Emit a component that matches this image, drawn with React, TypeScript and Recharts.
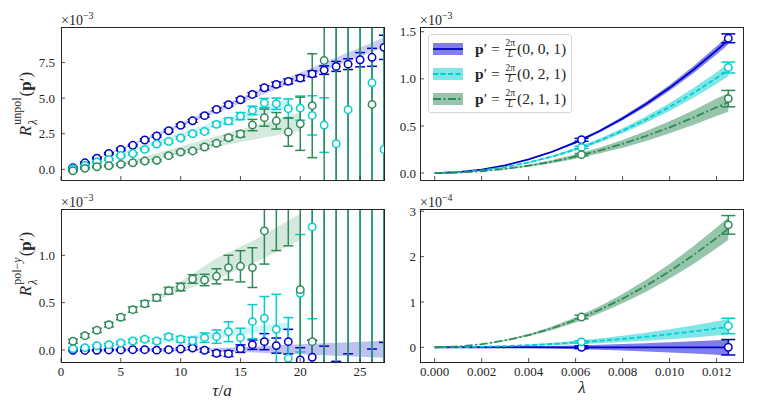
import React from "react"
import { ComposedChart, Scatter, ErrorBar, Area, Line, XAxis, YAxis } from "recharts"

const BLUE = "#0000cd"
const CYAN = "#00ced1"
const GREEN = "#2e8b57"
const INK = "#262626"
const FONT = '"Liberation Serif", "DejaVu Serif", serif'

const W = 764
const H = 414
const Y_W = 40
const X_H = 30

// ---- left column: ratio vs tau/a ----
const tau = [1, 2, 3, 4, 5, 6, 7, 8, 9, 10, 11, 12, 13, 14, 15, 16, 17, 18, 19, 20, 21, 22, 23, 24, 25, 26, 27]
const tauTicks = [0, 5, 10, 15, 20, 25]

// R^unpol, units of 1e-3
const unpolBlue = [0.11, 0.46, 0.79, 1.12, 1.40, 1.69, 2.06, 2.34, 2.71, 3.09, 3.41, 3.77, 4.21, 4.54, 4.89, 5.26, 5.73, 5.97, 6.18, 6.41, 6.71, 6.97, 7.23, 7.39, 7.70, 7.87, 8.57]
const unpolBlueErr = [0.05, 0.05, 0.06, 0.06, 0.07, 0.07, 0.08, 0.08, 0.09, 0.09, 0.1, 0.1, 0.1, 0.12, 0.12, 0.13, 0.15, 0.15, 0.17, 0.18, 0.2, 0.3, 0.35, 0.38, 0.5, 0.63, 0.85]
const unpolCyan = [0.05, 0.27, 0.51, 0.70, 0.97, 1.11, 1.40, 1.78, 1.95, 2.20, 2.50, 2.66, 3.16, 3.39, 3.74, 4.14, 4.66, 4.61, 4.26, 4.30, 3.79, 3.11, 1.80, 4.19, 11.0, 6.08, 1.40]
const unpolCyanErr = [0.05, 0.05, 0.06, 0.06, 0.07, 0.07, 0.08, 0.08, 0.09, 0.1, 0.1, 0.12, 0.15, 0.2, 0.25, 0.3, 0.32, 0.4, 0.68, 0.85, 1.38, 1.92, 10, 12, 12, 14, 15]
const unpolGreen = [-0.10, 0.07, 0.18, 0.25, 0.35, 0.46, 0.58, 0.63, 0.96, 1.21, 1.29, 1.57, 1.83, 2.22, 2.48, 3.11, 3.63, 3.41, 2.62, 3.20, 4.47, 7.65, -4.0, 14.0, -5.0, 4.56, 13.0]
const unpolGreenErr = [0.05, 0.05, 0.06, 0.06, 0.07, 0.07, 0.08, 0.08, 0.09, 0.1, 0.1, 0.12, 0.13, 0.15, 0.2, 0.4, 0.6, 0.58, 1.0, 1.87, 3.65, 16, 20, 22, 25, 28, 30]

const unpolBlueBandTau = [3, 10, 15, 20, 27]
const unpolBlueBandLo = [0.70, 3.01, 4.64, 6.28, 8.57]
const unpolBlueBandHi = [0.78, 3.27, 5.04, 6.80, 9.27]
const unpolCyanBandTau = [4, 10, 15, 19]
const unpolCyanBandLo = [0.79, 2.25, 3.45, 4.30]
const unpolCyanBandHi = [0.89, 2.55, 3.95, 4.98]
const unpolGreenBandTau = [5, 10, 13, 16, 20]
const unpolGreenBandLo = [0.27, 1.10, 1.58, 2.07, 2.70]
const unpolGreenBandHi = [0.43, 1.60, 2.32, 3.03, 4.00]

// R^pol-y, units of 1e-3
const polBlue = [-0.003, -0.005, -0.003, 0.0, 0.0, 0.003, 0.003, -0.002, 0.003, 0.01, 0.02, -0.003, -0.035, -0.039, 0.014, 0.056, 0.088, 0.046, 0.088, -0.106, -0.077, -0.25, -0.45, -0.4, -0.6, -0.35, -0.35]
const polBlueErr = [0.004, 0.005, 0.006, 0.007, 0.008, 0.009, 0.01, 0.011, 0.012, 0.014, 0.016, 0.02, 0.025, 0.03, 0.04, 0.05, 0.085, 0.08, 0.13, 0.13, 0.18, 0.29, 0.33, 0.36, 0.3, 0.36, 0.43]
const polCyan = [0.014, 0.024, 0.045, 0.056, 0.074, 0.095, 0.113, 0.095, 0.14, 0.113, 0.098, 0.13, 0.141, 0.193, 0.13, 0.299, 0.335, 0.218, -0.088, 0.599, 1.30, 2.0, -2.0, 2.2, -2.2, 2.1, -2.1]
const polCyanErr = [0.01, 0.01, 0.012, 0.014, 0.016, 0.018, 0.02, 0.022, 0.025, 0.03, 0.035, 0.05, 0.07, 0.105, 0.1, 0.18, 0.23, 0.37, 0.43, 0.62, 0.97, 4, 4, 4.5, 4.5, 5, 5]
const polGreen = [0.092, 0.151, 0.208, 0.267, 0.345, 0.426, 0.489, 0.552, 0.626, 0.665, 0.750, 0.739, 0.778, 0.87, 0.884, 0.87, 1.257, 1.6, 1.7, 0.637, 0.088, 2.5, -1.5, 3.0, -2.0, 2.8, -1.8]
const polGreenErr = [0.02, 0.02, 0.022, 0.024, 0.026, 0.028, 0.03, 0.032, 0.035, 0.04, 0.045, 0.06, 0.08, 0.13, 0.165, 0.21, 0.35, 0.55, 0.6, 2.5, 3.0, 4.5, 4.5, 5, 5, 5.5, 5.5]

const polBlueBandTau = [2, 12, 15, 20, 27]
const polBlueBandLo = [-0.004, -0.008, -0.02, -0.045, -0.082]
const polBlueBandHi = [0.004, 0.016, 0.03, 0.06, 0.098]
const polCyanBandTau = [8, 13, 19]
const polCyanBandLo = [0.073, 0.125, 0.225]
const polCyanBandHi = [0.097, 0.195, 0.295]
const polGreenBandTau = [8, 10, 13, 16, 20]
const polGreenBandLo = [0.53, 0.62, 0.75, 0.91, 1.16]
const polGreenBandHi = [0.55, 0.72, 0.97, 1.15, 1.44]

// ---- right column: extrapolation in lambda ----
const lam = [0, 0.001, 0.002, 0.003, 0.004, 0.005, 0.006, 0.007, 0.008, 0.009, 0.01, 0.011, 0.012, 0.0125]
const lamTicks = [0, 0.002, 0.004, 0.006, 0.008, 0.01, 0.012]
const lamPts = [0.00625, 0.0125]

const unpolFitBlue = [0, 0.009, 0.036, 0.081, 0.145, 0.226, 0.325, 0.443, 0.579, 0.732, 0.904, 1.094, 1.302, 1.412]
const unpolFitBlueHw = [0, 0.0003, 0.0012, 0.0028, 0.0049, 0.0077, 0.011, 0.015, 0.0197, 0.0249, 0.0307, 0.0372, 0.0442, 0.048]
const unpolFitCyan = [0, 0.007, 0.028, 0.063, 0.112, 0.175, 0.252, 0.343, 0.449, 0.568, 0.701, 0.848, 1.009, 1.095]
const unpolFitCyanHw = [0, 0.0004, 0.0017, 0.0039, 0.0069, 0.0107, 0.0154, 0.021, 0.0274, 0.0347, 0.0429, 0.0519, 0.0617, 0.067]
const unpolFitGreen = [0, 0.005, 0.019, 0.044, 0.078, 0.121, 0.175, 0.238, 0.310, 0.393, 0.485, 0.587, 0.698, 0.75]
const unpolFitGreenHw = [0, 0.0006, 0.0026, 0.0058, 0.0102, 0.016, 0.023, 0.0314, 0.041, 0.0518, 0.064, 0.0774, 0.0922, 0.1]

const unpolPtBlue = [0.353, 1.43]
const unpolPtBlueErr = [0.015, 0.047]
const unpolPtCyan = [0.272, 1.12]
const unpolPtCyanErr = [0.012, 0.058]
const unpolPtGreen = [0.195, 0.79]
const unpolPtGreenErr = [0.012, 0.087]

// units of 1e-4
const polFitBlue = [0, 0, 0, 0, 0, -0.001, -0.001, -0.002, -0.002, -0.003, -0.003, -0.004, -0.004, -0.005]
const polFitBlueHw = [0, 0.0011, 0.0045, 0.0101, 0.0179, 0.028, 0.0403, 0.0549, 0.0717, 0.0907, 0.112, 0.1355, 0.1613, 0.175]
const polFitCyan = [0, 0.003, 0.012, 0.026, 0.046, 0.072, 0.104, 0.141, 0.184, 0.233, 0.288, 0.348, 0.415, 0.45]
const polFitCyanHw = [0, 0.0011, 0.0044, 0.0098, 0.0174, 0.0272, 0.0392, 0.0533, 0.0696, 0.0881, 0.1088, 0.1317, 0.1567, 0.17]
const polFitGreen = [0, 0.017, 0.067, 0.151, 0.268, 0.419, 0.603, 0.821, 1.072, 1.357, 1.675, 2.027, 2.412, 2.618]
const polFitGreenHw = [0, 0.0016, 0.0064, 0.0144, 0.0256, 0.04, 0.0576, 0.0784, 0.1024, 0.1296, 0.16, 0.1936, 0.2304, 0.25]

const polPtBlue = [0.0, 0.0]
const polPtBlueErr = [0.03, 0.17]
const polPtCyan = [0.12, 0.47]
const polPtCyanErr = [0.025, 0.17]
const polPtGreen = [0.667, 2.70]
const polPtGreenErr = [0.04, 0.205]

const pts = (xs: number[], ys: number[], es: number[]) => xs.map((x, i) => ({ x, y: ys[i], err: es[i] }))
const band = (xs: number[], lo: number[], hi: number[]) => xs.map((x, i) => ({ x, band: [lo[i], hi[i]] }))
const fit = (ys: number[], hw: number[]) => lam.map((x, i) => ({ x, y: ys[i], band: [ys[i] - hw[i], ys[i] + hw[i]] }))

const ring = (color: string) => (p: any) => (
    <circle cx={p.cx} cy={p.cy} r={3.7} fill="#fff" stroke={color} strokeWidth={1.5} />
)
const noMark = () => <g />

const tickStyle = { fontSize: 13, fill: INK, fontFamily: FONT }

type Box = { left: number; top: number; width: number; height: number }

// one panel = a chart holding the axes + a chart holding the data, clipped to the frame
function Panel({ box, xDomain, xTicks, xFmt, yDomain, yTicks, yFmt, yGap, children }: any) {
    const b: Box = box
    const right = W - b.left - b.width
    const bottom = H - b.top - b.height
    return (
        <div style={{ position: "absolute", left: 0, top: 0 }}>
            <div style={{ position: "absolute", left: 0, top: 0, clipPath: `inset(${b.top}px ${right}px ${bottom}px ${b.left}px)` }}>
                <ComposedChart width={W} height={H} margin={{ left: b.left, top: b.top, right, bottom }}>
                    <XAxis type="number" dataKey="x" domain={xDomain} allowDataOverflow hide />
                    <YAxis type="number" dataKey="y" domain={yDomain} allowDataOverflow hide />
                    {children}
                </ComposedChart>
            </div>
            <div style={{ position: "absolute", left: 0, top: 0 }}>
                <ComposedChart width={W} height={H} margin={{ left: b.left - Y_W, top: b.top, right, bottom: bottom - X_H }}>
                    <XAxis
                        type="number"
                        dataKey="x"
                        domain={xDomain}
                        ticks={xTicks}
                        allowDataOverflow
                        axisLine={false}
                        tickSize={-4}
                        tickMargin={9}
                        tickLine={{ stroke: INK, strokeWidth: 0.8 }}
                        tick={tickStyle}
                        tickFormatter={xFmt}
                        height={X_H}
                        interval={0}
                    />
                    <YAxis
                        type="number"
                        dataKey="y"
                        domain={yDomain}
                        ticks={yTicks}
                        allowDataOverflow
                        axisLine={false}
                        tickSize={-4}
                        tickMargin={yGap}
                        tickLine={{ stroke: INK, strokeWidth: 0.8 }}
                        tick={tickStyle}
                        tickFormatter={yFmt}
                        width={Y_W}
                        interval={0}
                    />
                    <Scatter data={[]} dataKey="y" isAnimationActive={false} />
                </ComposedChart>
            </div>
            <div
                style={{
                    position: "absolute",
                    left: b.left - 0.5,
                    top: b.top - 0.5,
                    width: b.width + 1,
                    height: b.height + 1,
                    border: `1px solid ${INK}`,
                    boxSizing: "border-box",
                    pointerEvents: "none"
                }}
            />
        </div>
    )
}

function bandArea(key: string, data: any[], color: string, opacity: number) {
    return (
        <Area
            key={key}
            data={data}
            dataKey="band"
            type="linear"
            stroke="none"
            fill={color}
            fillOpacity={opacity}
            dot={false}
            activeDot={false}
            isAnimationActive={false}
        />
    )
}

function errors(key: string, data: any[], color: string, cap: number) {
    return (
        <Scatter key={key} data={data} dataKey="y" shape={noMark} isAnimationActive={false}>
            <ErrorBar dataKey="err" direction="y" width={cap} stroke={color} strokeWidth={1.5} />
        </Scatter>
    )
}

function markers(key: string, data: any[], color: string) {
    return <Scatter key={key} data={data} dataKey="y" shape={ring(color)} isAnimationActive={false} />
}

function fitLine(key: string, data: any[], color: string, dash?: string) {
    return (
        <Line
            key={key}
            data={data}
            dataKey="y"
            type="linear"
            stroke={color}
            strokeWidth={1.8}
            strokeDasharray={dash}
            dot={false}
            activeDot={false}
            isAnimationActive={false}
        />
    )
}

const DASH = "5 2.5"
const DASHDOT = "8 2.5 2 2.5"
const blank = () => ""

function Frac() {
    return (
        <span style={{ display: "inline-flex", flexDirection: "column", alignItems: "center", fontSize: 9.5, lineHeight: "9px", margin: "0 1px" }}>
            <span style={{ borderBottom: `0.8px solid ${INK}`, padding: "0 1px 1px" }}>2π</span>
            <i>L</i>
        </span>
    )
}

function PLabel({ v }: { v: string }) {
    return (
        <span style={{ display: "inline-flex", alignItems: "center", fontSize: 15.5, whiteSpace: "nowrap" }}>
            <b>p</b>′&nbsp;=&nbsp;<Frac />({v})
        </span>
    )
}

const legendRows = [
    { color: BLUE, dash: undefined, label: "0, 0, 1" },
    { color: CYAN, dash: DASH, label: "0, 2, 1" },
    { color: GREEN, dash: DASHDOT, label: "2, 1, 1" }
]

function LegendBox() {
    return (
        <div
            style={{
                position: "absolute",
                left: 428,
                top: 34,
                width: 144,
                height: 79,
                border: "1px solid #d3d3d3",
                borderRadius: 3,
                background: "rgba(255,255,255,0.8)",
                boxSizing: "border-box",
                padding: "1px 0 0 4px"
            }}
        >
            {legendRows.map((r) => (
                <div key={r.label} style={{ display: "flex", alignItems: "center", height: 25 }}>
                    <svg width={30} height={12} style={{ marginRight: 12, flex: "none" }}>
                        <rect x={0} y={0} width={30} height={12} fill={r.color} fillOpacity={0.5} />
                        <line x1={0} x2={30} y1={6} y2={6} stroke={r.color} strokeWidth={1.8} strokeDasharray={r.dash} />
                    </svg>
                    <PLabel v={r.label} />
                </div>
            ))}
        </div>
    )
}

function RLabel({ sup, cx, cy }: { sup: React.ReactNode; cx: number; cy: number }) {
    return (
        <div
            style={{
                position: "absolute",
                left: cx,
                top: cy,
                transform: "translate(-50%, -50%) rotate(-90deg)",
                whiteSpace: "nowrap",
                fontSize: 17,
                display: "inline-flex",
                alignItems: "center"
            }}
        >
            <i>R</i>
            <span style={{ display: "inline-flex", flexDirection: "column", fontSize: 12, lineHeight: "12px", margin: "0 1px" }}>
                <span style={{ transform: "translateY(-3px)" }}>{sup}</span>
                <i style={{ transform: "translateY(1px)" }}>λ</i>
            </span>
            <span>
                (<b>p</b>′)
            </span>
        </div>
    )
}

function Exp({ n, left, top }: { n: string; left: number; top: number }) {
    return (
        <div style={{ position: "absolute", left, top, fontSize: 14, lineHeight: "16px", whiteSpace: "nowrap" }}>
            ×10<sup style={{ fontSize: 10 }}>−{n}</sup>
        </div>
    )
}

const boxTL = { left: 61, top: 27, width: 323, height: 153 }
const boxBL = { left: 61, top: 209, width: 323, height: 153 }
const boxTR = { left: 420, top: 27, width: 323, height: 153 }
const boxBR = { left: 420, top: 209, width: 323, height: 153 }

export default function App() {
    const f1 = (v: number) => v.toFixed(1)
    const f3 = (v: number) => v.toFixed(3)
    const f0 = (v: number) => v.toFixed(0)
    const lamDomain = [-0.000625, 0.013125]

    return (
        <div style={{ position: "absolute", left: 0, top: 0, width: W, height: H, background: "#fff", fontFamily: FONT, color: INK }}>
            <style>{`.recharts-text, .recharts-cartesian-axis-tick-value { font-family: "Liberation Serif", "DejaVu Serif", serif !important; }`}</style>
            <Panel box={boxTL} xDomain={[0, 27]} xTicks={tauTicks} xFmt={blank} yDomain={[-0.75, 10.0]} yTicks={[0, 2.5, 5, 7.5]} yFmt={f1} yGap={10}>
                {bandArea("b1", band(unpolBlueBandTau, unpolBlueBandLo, unpolBlueBandHi), BLUE, 0.2)}
                {bandArea("b2", band(unpolCyanBandTau, unpolCyanBandLo, unpolCyanBandHi), CYAN, 0.2)}
                {bandArea("b3", band(unpolGreenBandTau, unpolGreenBandLo, unpolGreenBandHi), GREEN, 0.2)}
                {errors("e1", pts(tau, unpolBlue, unpolBlueErr), BLUE, 5)}
                {errors("e2", pts(tau, unpolCyan, unpolCyanErr), CYAN, 5)}
                {errors("e3", pts(tau, unpolGreen, unpolGreenErr), GREEN, 5)}
                {markers("m1", pts(tau, unpolBlue, unpolBlueErr), BLUE)}
                {markers("m2", pts(tau, unpolCyan, unpolCyanErr), CYAN)}
                {markers("m3", pts(tau, unpolGreen, unpolGreenErr), GREEN)}
            </Panel>

            <Panel box={boxBL} xDomain={[0, 27]} xTicks={tauTicks} xFmt={f0} yDomain={[-0.127, 1.489]} yTicks={[0, 0.5, 1.0]} yFmt={f1} yGap={10}>
                {bandArea("b1", band(polBlueBandTau, polBlueBandLo, polBlueBandHi), BLUE, 0.25)}
                {bandArea("b2", band(polCyanBandTau, polCyanBandLo, polCyanBandHi), CYAN, 0.2)}
                {bandArea("b3", band(polGreenBandTau, polGreenBandLo, polGreenBandHi), GREEN, 0.2)}
                {errors("e1", pts(tau, polBlue, polBlueErr), BLUE, 5)}
                {errors("e2", pts(tau, polCyan, polCyanErr), CYAN, 5)}
                {errors("e3", pts(tau, polGreen, polGreenErr), GREEN, 5)}
                {markers("m1", pts(tau, polBlue, polBlueErr), BLUE)}
                {markers("m2", pts(tau, polCyan, polCyanErr), CYAN)}
                {markers("m3", pts(tau, polGreen, polGreenErr), GREEN)}
            </Panel>

            <Panel box={boxTR} xDomain={lamDomain} xTicks={lamTicks} xFmt={blank} yDomain={[-0.074, 1.55]} yTicks={[0, 0.5, 1.0, 1.5]} yFmt={f1} yGap={8}>
                {bandArea("b1", fit(unpolFitBlue, unpolFitBlueHw), BLUE, 0.5)}
                {bandArea("b2", fit(unpolFitCyan, unpolFitCyanHw), CYAN, 0.5)}
                {bandArea("b3", fit(unpolFitGreen, unpolFitGreenHw), GREEN, 0.5)}
                {fitLine("l1", fit(unpolFitBlue, unpolFitBlueHw), BLUE)}
                {fitLine("l2", fit(unpolFitCyan, unpolFitCyanHw), CYAN, DASH)}
                {fitLine("l3", fit(unpolFitGreen, unpolFitGreenHw), GREEN, DASHDOT)}
                {errors("e1", pts(lamPts, unpolPtBlue, unpolPtBlueErr), BLUE, 7)}
                {errors("e2", pts(lamPts, unpolPtCyan, unpolPtCyanErr), CYAN, 7)}
                {errors("e3", pts(lamPts, unpolPtGreen, unpolPtGreenErr), GREEN, 7)}
                {markers("m1", pts(lamPts, unpolPtBlue, unpolPtBlueErr), BLUE)}
                {markers("m2", pts(lamPts, unpolPtCyan, unpolPtCyanErr), CYAN)}
                {markers("m3", pts(lamPts, unpolPtGreen, unpolPtGreenErr), GREEN)}
            </Panel>

            <Panel box={boxBR} xDomain={lamDomain} xTicks={lamTicks} xFmt={f3} yDomain={[-0.325, 3.05]} yTicks={[0, 1, 2, 3]} yFmt={f0} yGap={8}>
                {bandArea("b1", fit(polFitBlue, polFitBlueHw), BLUE, 0.5)}
                {bandArea("b2", fit(polFitCyan, polFitCyanHw), CYAN, 0.5)}
                {bandArea("b3", fit(polFitGreen, polFitGreenHw), GREEN, 0.5)}
                {fitLine("l1", fit(polFitBlue, polFitBlueHw), BLUE)}
                {fitLine("l2", fit(polFitCyan, polFitCyanHw), CYAN, DASH)}
                {fitLine("l3", fit(polFitGreen, polFitGreenHw), GREEN, DASHDOT)}
                {errors("e1", pts(lamPts, polPtBlue, polPtBlueErr), BLUE, 7)}
                {errors("e2", pts(lamPts, polPtCyan, polPtCyanErr), CYAN, 7)}
                {errors("e3", pts(lamPts, polPtGreen, polPtGreenErr), GREEN, 7)}
                {markers("m1", pts(lamPts, polPtBlue, polPtBlueErr), BLUE)}
                {markers("m2", pts(lamPts, polPtCyan, polPtCyanErr), CYAN)}
                {markers("m3", pts(lamPts, polPtGreen, polPtGreenErr), GREEN)}
            </Panel>

            <LegendBox />

            <Exp n="3" left={61} top={8} />
            <Exp n="3" left={61} top={190} />
            <Exp n="3" left={420} top={8} />
            <Exp n="4" left={420} top={190} />

            <RLabel sup="unpol" cx={26} cy={104} />
            <RLabel sup={<span>pol−<i>y</i></span>} cx={26} cy={264} />

            <div style={{ position: "absolute", left: 222, top: 391, transform: "translate(-50%, -50%)", fontSize: 17, whiteSpace: "nowrap" }}>
                <i>τ</i>/<i>a</i>
            </div>
            <div style={{ position: "absolute", left: 582, top: 388, transform: "translate(-50%, -50%)", fontSize: 17, whiteSpace: "nowrap" }}>
                <i>λ</i>
            </div>
        </div>
    )
}
